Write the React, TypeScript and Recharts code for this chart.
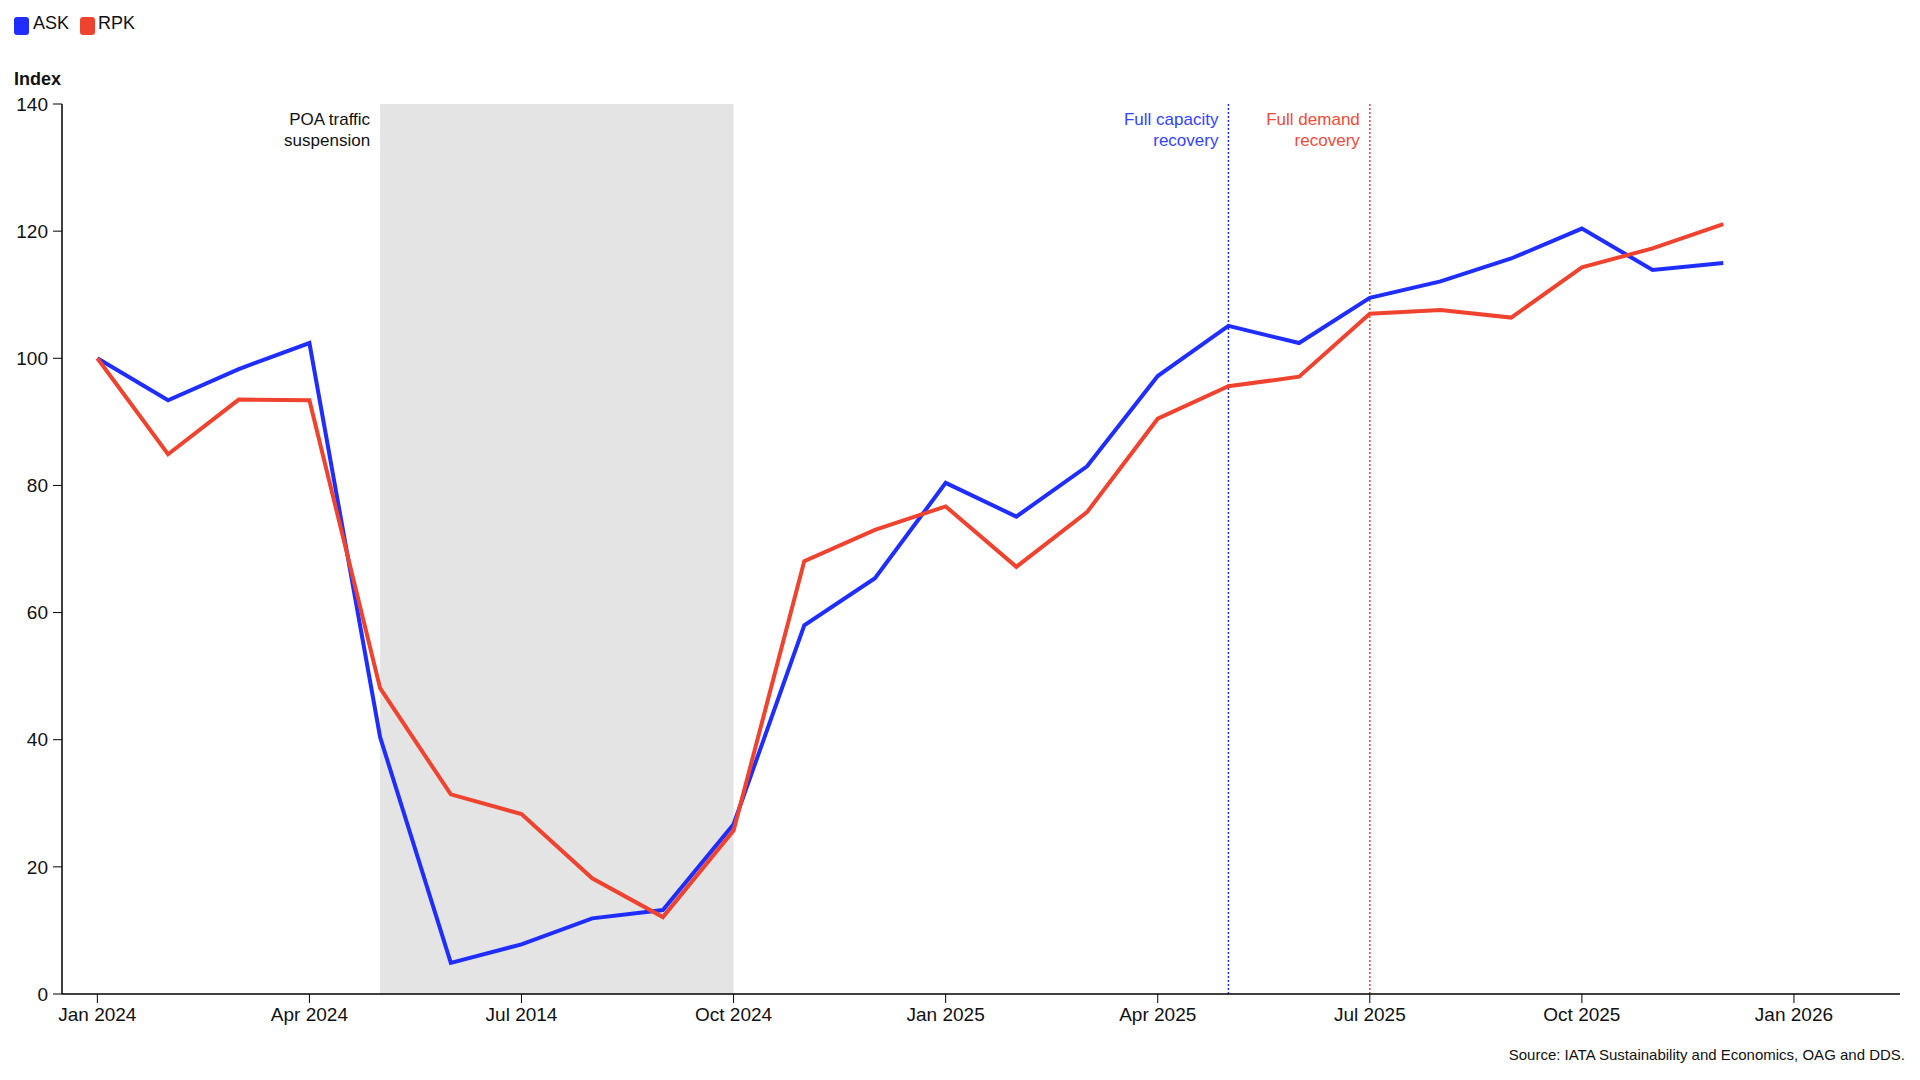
import React from "react";
import {
  LineChart,
  Line,
  XAxis,
  YAxis,
  ReferenceArea,
  ReferenceLine,
} from "recharts";

const monthLabels = [
  "Jan 2024", "Feb 2024", "Mar 2024", "Apr 2024", "May 2024", "Jun 2024",
  "Jul 2024", "Aug 2024", "Sep 2024", "Oct 2024", "Nov 2024", "Dec 2024",
  "Jan 2025", "Feb 2025", "Mar 2025", "Apr 2025", "May 2025", "Jun 2025",
  "Jul 2025", "Aug 2025", "Sep 2025", "Oct 2025", "Nov 2025", "Dec 2025",
];

const askValues = [
  100, 93.4, 98.3, 102.4, 40.4, 4.9, 7.8, 11.9, 13.2, 26.7, 58.0, 65.4,
  80.4, 75.1, 83.0, 97.2, 105.1, 102.4, 109.5, 112.1, 115.7, 120.4, 113.9, 115.0,
];

const rpkValues = [
  100, 84.9, 93.5, 93.4, 48.1, 31.4, 28.3, 18.2, 12.1, 25.7, 68.1, 73.0,
  76.7, 67.2, 75.8, 90.5, 95.6, 97.1, 107.0, 107.6, 106.4, 114.3, 117.3, 121.1,
];

const xTickValues = [0, 3, 6, 9, 12, 15, 18, 21, 24];
const xTickLabels = [
  "Jan 2024", "Apr 2024", "Jul 2014", "Oct 2024", "Jan 2025",
  "Apr 2025", "Jul 2025", "Oct 2025", "Jan 2026",
];
const yTickValues = [0, 20, 40, 60, 80, 100, 120, 140];

const suspensionStart = 4;
const suspensionEnd = 9;
const capacityRecovery = 16;
const demandRecovery = 18;

const BLUE = "#1f2eff";
const RED = "#f0432f";
const BLUE_TEXT = "#3344ff";
const RED_TEXT = "#f04a38";
const FONT = "'Liberation Sans', Arial, sans-serif";

const data = monthLabels.map((label, i) => ({
  m: i,
  label,
  ask: askValues[i],
  rpk: rpkValues[i],
}));

const twoLineLabel = (lines: string[], color: string, gap: number) => (props: any) => {
  const vb = props.viewBox || {};
  const x = (vb.x ?? 0) - gap;
  const y = (vb.y ?? 0) + 21;
  return (
    <text
      x={x}
      y={y}
      textAnchor="end"
      fill={color}
      fontSize={17}
      fontFamily={FONT}
    >
      {lines.map((l, i) => (
        <tspan key={i} x={x} dy={i === 0 ? 0 : 21}>
          {l}
        </tspan>
      ))}
    </text>
  );
};

export default function App() {
  return (
    <div
      style={{
        position: "fixed",
        left: 0,
        top: 0,
        width: 1920,
        height: 1080,
        background: "#fff",
        fontFamily: FONT,
        color: "#111",
      }}
    >
      {/* Legend */}
      <div style={{ position: "absolute", left: 14, top: 17, width: 15, height: 18, borderRadius: 3, background: BLUE }} />
      <div style={{ position: "absolute", left: 33, top: 13.8, fontSize: 18, lineHeight: "18px" }}>ASK</div>
      <div style={{ position: "absolute", left: 80, top: 17, width: 15, height: 18, borderRadius: 3, background: RED }} />
      <div style={{ position: "absolute", left: 98, top: 13.8, fontSize: 18, lineHeight: "18px" }}>RPK</div>

      {/* Axis title */}
      <div style={{ position: "absolute", left: 14, top: 69.8, fontSize: 18, lineHeight: "18px", fontWeight: 700 }}>Index</div>

      <div style={{ position: "absolute", left: 0, top: 0 }}>
        <LineChart
          width={1920}
          height={1080}
          data={data}
          margin={{ top: 104, right: 20, bottom: 0, left: 0 }}
        >
          <ReferenceArea
            x1={suspensionStart}
            x2={suspensionEnd}
            y1={0}
            y2={140}
            fill="#e4e4e4"
            fillOpacity={1}
            stroke="none"
            label={twoLineLabel(["POA traffic", "suspension"], "#111", 10)}
          />
          <XAxis
            type="number"
            dataKey="m"
            domain={[-0.5, 25.5]}
            ticks={xTickValues}
            tickFormatter={(v: number) => xTickLabels[xTickValues.indexOf(v)] ?? ""}
            height={86}
            tickSize={9}
            tickMargin={5}
            stroke="#000"
            tick={{ fill: "#111", fontSize: 19, fontFamily: FONT }}
            tickLine={{ stroke: "#000" }}
            axisLine={{ stroke: "#000", strokeWidth: 1.5 }}
            interval={0}
          />
          <YAxis
            type="number"
            domain={[0, 140]}
            ticks={yTickValues}
            width={62}
            tickSize={9}
            tickMargin={5}
            stroke="#000"
            tick={{ fill: "#111", fontSize: 19, fontFamily: FONT }}
            tickLine={{ stroke: "#000" }}
            axisLine={{ stroke: "#000", strokeWidth: 1.5 }}
            interval={0}
          />
          <ReferenceLine
            x={capacityRecovery}
            stroke={BLUE}
            strokeWidth={1.5}
            strokeDasharray="2 2"
            label={twoLineLabel(["Full capacity", "recovery"], BLUE_TEXT, 10)}
          />
          <ReferenceLine
            x={demandRecovery}
            stroke={RED}
            strokeWidth={1.5}
            strokeDasharray="2 2"
            label={twoLineLabel(["Full demand", "recovery"], RED_TEXT, 10)}
          />
          <Line
            type="linear"
            dataKey="ask"
            stroke={BLUE}
            strokeWidth={4}
            dot={false}
            activeDot={false}
            isAnimationActive={false}
          />
          <Line
            type="linear"
            dataKey="rpk"
            stroke={RED}
            strokeWidth={4}
            dot={false}
            activeDot={false}
            isAnimationActive={false}
          />
        </LineChart>
      </div>

      {/* Source */}
      <div
        style={{
          position: "absolute",
          right: 15,
          top: 1047.3,
          fontSize: 15,
          lineHeight: "15px",
          whiteSpace: "nowrap",
        }}
      >
        Source: IATA Sustainability and Economics, OAG and DDS.
      </div>
    </div>
  );
}
